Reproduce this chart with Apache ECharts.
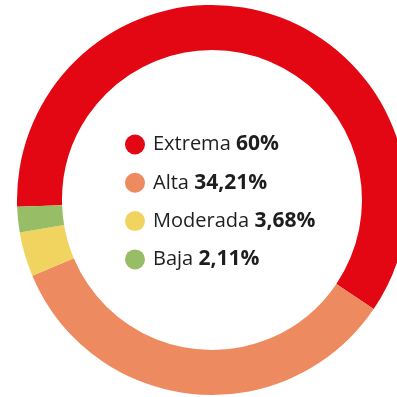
<!DOCTYPE html>
<html>
<head>
<meta charset="utf-8">
<script src="https://cdn.jsdelivr.net/npm/echarts@6/dist/echarts.min.js"></script>
<style>
  html, body { margin: 0; padding: 0; background: #ffffff; }
  #chart { width: 397px; height: 397px; }
</style>
</head>
<body>
<div id="chart"></div>
<script>
// Risk levels and their share (%)
const categories = ['Extrema', 'Alta', 'Moderada', 'Baja'];
const shares = [60, 34.21, 3.68, 2.11];
const palette = ['#e30613', '#ee8a5f', '#f0d45f', '#97bd66'];

const fmtPct = v => String(v).replace('.', ',') + '%';

const chart = echarts.init(document.getElementById('chart'));
chart.setOption({
  animation: false,
  color: palette,
  legend: {
    orient: 'vertical',
    left: 120,
    top: 129,
    icon: 'circle',
    itemWidth: 20,
    itemHeight: 20,
    itemGap: 17.3,
    selectedMode: false,
    data: categories,
    formatter: name => {
      const i = categories.indexOf(name);
      return '{n|' + name + '} {v|' + fmtPct(shares[i]) + '}';
    },
    textStyle: {
      padding: [0, 0, 0, 3],
      lineHeight: 20,
      rich: {
        n: { fontFamily: 'Open Sans', fontSize: 20, lineHeight: 20, color: '#1e1e1e' },
        v: { fontFamily: 'Open Sans', fontSize: 21, lineHeight: 20, fontWeight: 'bold', color: '#1e1e1e', padding: [0, 0, 0, 2] }
      }
    }
  },
  series: [{
    type: 'pie',
    center: [212, 200],
    radius: [150, 195],
    startAngle: 182,
    clockwise: true,
    silent: true,
    label: { show: false },
    labelLine: { show: false },
    itemStyle: { borderWidth: 0 },
    data: categories.map((c, i) => ({ name: c, value: shares[i] }))
  }]
});
</script>
</body>
</html>
